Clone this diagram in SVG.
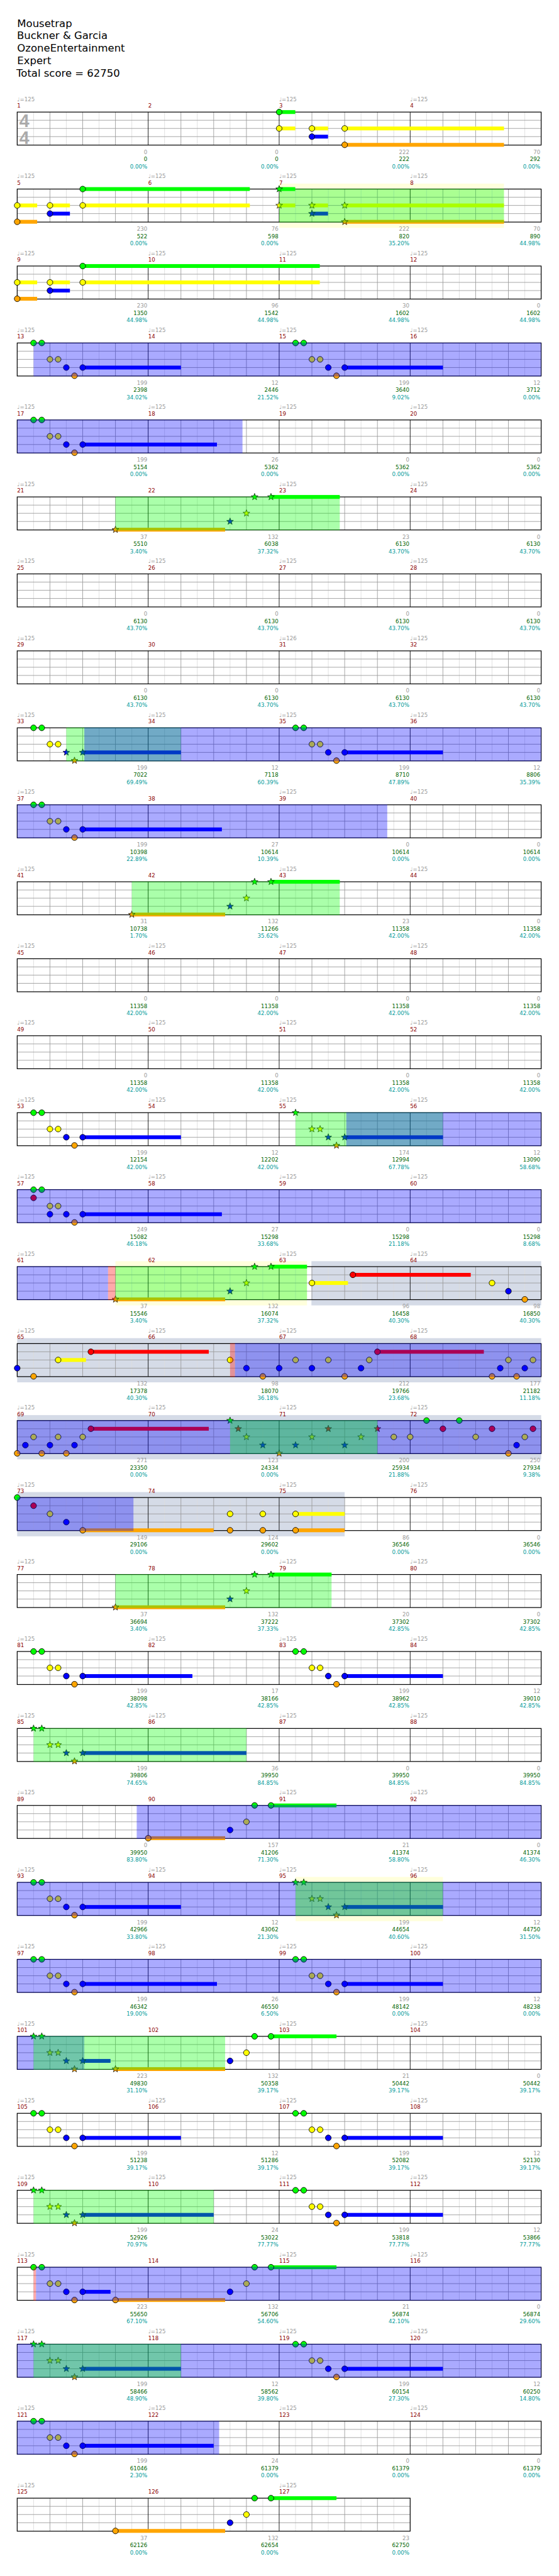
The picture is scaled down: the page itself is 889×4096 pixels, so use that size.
<svg xmlns="http://www.w3.org/2000/svg" xmlns:xlink="http://www.w3.org/1999/xlink" width="889" height="4096" viewBox="0 0 889 4096">
<style>
text{font-family:"DejaVu Sans",Verdana,sans-serif;font-size:10px}
.ti{font-size:19px;fill:#000}
.ts{font-family:"Liberation Sans",Arial,sans-serif;font-weight:bold;font-size:33px;fill:#aaa;text-anchor:middle}
.t{fill:#9a9a9a}
.m{fill:#8b0000}
.a{fill:#9a9a9a;text-anchor:end}
.b{fill:#006400;text-anchor:end}
.c{fill:#009a9a;text-anchor:end}
.lt{stroke:#dcdcdc;stroke-width:1;fill:none}
.gr{stroke:#999;stroke-width:1;fill:none}
.bk{stroke:#000;stroke-width:1;fill:none}
.bd{stroke:#000;stroke-width:1.4;fill:none}
.G{fill:#00ff00}.R{fill:#ff0000}.Y{fill:#ffff00}.B{fill:#0000ff}.O{fill:#ffa500}
.ob{fill:#0000ff;fill-opacity:.333}
.og{fill:#00ff00;fill-opacity:.333}
.or{fill:#ff0000;fill-opacity:.333}
.yb{fill:#ffffdc}
.sb{fill:#d5dbe7}
</style>
<defs>
<circle id="c" r="5.3" stroke="#000" stroke-width="1"/>
<path id="s" d="M0,-6.5L1.59,-2.18L6.18,-2.01L2.57,0.83L3.82,5.26L0,2.7L-3.82,5.26L-2.57,0.83L-6.18,-2.01L-1.59,-2.18Z" stroke="#000" stroke-width="0.8"/>
<g id="pAc">
<use href="#c" class="G" x="61.5" y="0"/><use href="#c" class="G" x="76.5" y="0"/><use href="#c" class="Y" x="91.5" y="30"/><use href="#c" class="Y" x="106.5" y="30"/><use href="#c" class="B" x="121.5" y="45"/><use href="#c" class="O" x="136.5" y="60"/><use href="#c" class="B" x="151.5" y="45"/>
</g>
<g id="pAs">
<use href="#s" class="G" x="61.5" y="0"/><use href="#s" class="G" x="76.5" y="0"/><use href="#s" class="Y" x="91.5" y="30"/><use href="#s" class="Y" x="106.5" y="30"/><use href="#s" class="B" x="121.5" y="45"/><use href="#s" class="O" x="136.5" y="60"/><use href="#s" class="B" x="151.5" y="45"/>
</g>
<g id="grid4">
<path class="lt" d="M61.5 0V60.5M121.5 0V60.5M181.5 0V60.5M241.5 0V60.5M301.5 0V60.5M361.5 0V60.5M421.5 0V60.5M481.5 0V60.5M541.5 0V60.5M601.5 0V60.5M661.5 0V60.5M721.5 0V60.5M781.5 0V60.5M841.5 0V60.5M901.5 0V60.5M961.5 0V60.5"/>
<path class="gr" d="M31.5 15H991.5M31.5 30H991.5M31.5 45H991.5M91.5 0V60.5M151.5 0V60.5M211.5 0V60.5M331.5 0V60.5M391.5 0V60.5M451.5 0V60.5M571.5 0V60.5M631.5 0V60.5M691.5 0V60.5M811.5 0V60.5M871.5 0V60.5M931.5 0V60.5"/>
<path class="bk" d="M271.5 0V60.5M511.5 0V60.5M751.5 0V60.5"/>
<rect class="bd" x="31.5" y="0" width="960" height="60.5"/>
</g>
<g id="grid3">
<path class="lt" d="M61.5 0V60.5M121.5 0V60.5M181.5 0V60.5M241.5 0V60.5M301.5 0V60.5M361.5 0V60.5M421.5 0V60.5M481.5 0V60.5M541.5 0V60.5M601.5 0V60.5M661.5 0V60.5M721.5 0V60.5"/>
<path class="gr" d="M31.5 15H751.5M31.5 30H751.5M31.5 45H751.5M91.5 0V60.5M151.5 0V60.5M211.5 0V60.5M331.5 0V60.5M391.5 0V60.5M451.5 0V60.5M571.5 0V60.5M631.5 0V60.5M691.5 0V60.5"/>
<path class="bk" d="M271.5 0V60.5M511.5 0V60.5"/>
<rect class="bd" x="31.5" y="0" width="720" height="60.5"/>
</g>
</defs>
<g transform="scale(0.868)">
<rect x="0" y="0" width="1024" height="4717" fill="#fff"/>
<g id="title">
<text class="ti" x="31.5" y="49">Mousetrap</text>
<text class="ti" x="31" y="72">Buckner &amp; Garcia</text>
<text class="ti" x="31.5" y="95">OzoneEntertainment</text>
<text class="ti" x="31.5" y="118">Expert</text>
<text class="ti" x="30" y="141">Total score = 62750</text>
</g>

<g id="row1" transform="translate(0,205.3)">
<use href="#grid4"/>
<text class="ts" x="44.5" y="27.5">4</text><text class="ts" x="44.5" y="58">4</text>
<rect class="G" x="511.5" y="-3.5" width="29.5" height="7"/><rect class="Y" x="511.5" y="26.5" width="29.5" height="7"/><rect class="Y" x="571.5" y="26.5" width="29.5" height="7"/><rect class="B" x="571.5" y="41.5" width="29.5" height="7"/><rect class="Y" x="631.5" y="26.5" width="291.9" height="7"/><rect class="O" x="631.5" y="56.5" width="291.9" height="7"/>
<use href="#c" class="G" x="511.5" y="0"/><use href="#c" class="Y" x="511.5" y="30"/><use href="#c" class="Y" x="571.5" y="30"/><use href="#c" class="B" x="571.5" y="45"/><use href="#c" class="Y" x="631.5" y="30"/><use href="#c" class="O" x="631.5" y="60"/>
<text class="t" x="31.5" y="-20">♩=125</text><text class="m" x="31.5" y="-8">1</text><text class="m" x="271.5" y="-8">2</text><text class="t" x="511.5" y="-20">♩=125</text><text class="m" x="511.5" y="-8">3</text><text class="t" x="751.5" y="-20">♩=125</text><text class="m" x="751.5" y="-8">4</text>
<text class="a" x="270" y="76.5">0</text><text class="b" x="270" y="90">0</text><text class="c" x="270" y="103">0.00%</text>
<text class="a" x="510" y="76.5">0</text><text class="b" x="510" y="90">0</text><text class="c" x="510" y="103">0.00%</text>
<text class="a" x="750" y="76.5">222</text><text class="b" x="750" y="90">222</text><text class="c" x="750" y="103">0.00%</text>
<text class="a" x="990" y="76.5">70</text><text class="b" x="990" y="90">292</text><text class="c" x="990" y="103">0.00%</text>
</g>

<g id="row2" transform="translate(0,346.3)">
<rect class="yb" x="511.5" y="-10" width="411.9" height="81"/>
<use href="#grid4"/>
<rect class="Y" x="31.5" y="26.5" width="36.6" height="7"/><rect class="O" x="31.5" y="56.5" width="36.6" height="7"/><rect class="Y" x="91.5" y="26.5" width="36.6" height="7"/><rect class="B" x="91.5" y="41.5" width="36.6" height="7"/><rect class="G" x="151.5" y="-3.5" width="306.2" height="7"/><rect class="Y" x="151.5" y="26.5" width="306.2" height="7"/>
<rect class="G" x="511.5" y="-3.5" width="29.5" height="7"/><rect class="Y" x="511.5" y="26.5" width="29.5" height="7"/><rect class="Y" x="571.5" y="26.5" width="29.5" height="7"/><rect class="B" x="571.5" y="41.5" width="29.5" height="7"/><rect class="Y" x="631.5" y="26.5" width="291.9" height="7"/><rect class="O" x="631.5" y="56.5" width="291.9" height="7"/>
<use href="#c" class="Y" x="31.5" y="30"/><use href="#c" class="O" x="31.5" y="60"/><use href="#c" class="Y" x="91.5" y="30"/><use href="#c" class="B" x="91.5" y="45"/><use href="#c" class="G" x="151.5" y="0"/><use href="#c" class="Y" x="151.5" y="30"/>
<use href="#s" class="G" x="511.5" y="0"/><use href="#s" class="Y" x="511.5" y="30"/><use href="#s" class="Y" x="571.5" y="30"/><use href="#s" class="B" x="571.5" y="45"/><use href="#s" class="Y" x="631.5" y="30"/><use href="#s" class="O" x="631.5" y="60"/>
<rect class="og" x="511.5" y="-0.7" width="411.9" height="61.9"/>
<text class="t" x="31.5" y="-20">♩=125</text><text class="m" x="31.5" y="-8">5</text><text class="t" x="271.5" y="-20">♩=125</text><text class="m" x="271.5" y="-8">6</text><text class="t" x="511.5" y="-20">♩=125</text><text class="m" x="511.5" y="-8">7</text><text class="t" x="751.5" y="-20">♩=125</text><text class="m" x="751.5" y="-8">8</text>
<text class="a" x="270" y="76.5">230</text><text class="b" x="270" y="90">522</text><text class="c" x="270" y="103">0.00%</text>
<text class="a" x="510" y="76.5">76</text><text class="b" x="510" y="90">598</text><text class="c" x="510" y="103">0.00%</text>
<text class="a" x="750" y="76.5">222</text><text class="b" x="750" y="90">820</text><text class="c" x="750" y="103">35.20%</text>
<text class="a" x="990" y="76.5">70</text><text class="b" x="990" y="90">890</text><text class="c" x="990" y="103">44.98%</text>
</g>

<g id="row3" transform="translate(0,487.3)">
<use href="#grid4"/>
<rect class="Y" x="31.5" y="26.5" width="36.6" height="7"/><rect class="O" x="31.5" y="56.5" width="36.6" height="7"/><rect class="Y" x="91.5" y="26.5" width="36.6" height="7"/><rect class="B" x="91.5" y="41.5" width="36.6" height="7"/><rect class="G" x="151.5" y="-3.5" width="434.4" height="7"/><rect class="Y" x="151.5" y="26.5" width="434.4" height="7"/>
<use href="#c" class="Y" x="31.5" y="30"/><use href="#c" class="O" x="31.5" y="60"/><use href="#c" class="Y" x="91.5" y="30"/><use href="#c" class="B" x="91.5" y="45"/><use href="#c" class="G" x="151.5" y="0"/><use href="#c" class="Y" x="151.5" y="30"/>
<text class="t" x="31.5" y="-20">♩=125</text><text class="m" x="31.5" y="-8">9</text><text class="t" x="271.5" y="-20">♩=125</text><text class="m" x="271.5" y="-8">10</text><text class="t" x="511.5" y="-20">♩=125</text><text class="m" x="511.5" y="-8">11</text><text class="t" x="751.5" y="-20">♩=125</text><text class="m" x="751.5" y="-8">12</text>
<text class="a" x="270" y="76.5">230</text><text class="b" x="270" y="90">1350</text><text class="c" x="270" y="103">44.98%</text>
<text class="a" x="510" y="76.5">96</text><text class="b" x="510" y="90">1542</text><text class="c" x="510" y="103">44.98%</text>
<text class="a" x="750" y="76.5">30</text><text class="b" x="750" y="90">1602</text><text class="c" x="750" y="103">44.98%</text>
<text class="a" x="990" y="76.5">0</text><text class="b" x="990" y="90">1602</text><text class="c" x="990" y="103">44.98%</text>
</g>

<g id="row4" transform="translate(0,628.3)">
<use href="#grid4"/>
<rect class="B" x="151.5" y="41.5" width="180" height="7"/><rect class="B" x="631.5" y="41.5" width="180" height="7"/>
<use href="#pAc"/><use href="#pAc" x="480"/>
<rect class="ob" x="61.5" y="-0.7" width="930" height="61.9"/>
<text class="t" x="31.5" y="-20">♩=125</text><text class="m" x="31.5" y="-8">13</text><text class="t" x="271.5" y="-20">♩=125</text><text class="m" x="271.5" y="-8">14</text><text class="t" x="511.5" y="-20">♩=125</text><text class="m" x="511.5" y="-8">15</text><text class="t" x="751.5" y="-20">♩=125</text><text class="m" x="751.5" y="-8">16</text>
<text class="a" x="270" y="76.5">199</text><text class="b" x="270" y="90">2398</text><text class="c" x="270" y="103">34.02%</text>
<text class="a" x="510" y="76.5">12</text><text class="b" x="510" y="90">2446</text><text class="c" x="510" y="103">21.52%</text>
<text class="a" x="750" y="76.5">199</text><text class="b" x="750" y="90">3640</text><text class="c" x="750" y="103">9.02%</text>
<text class="a" x="990" y="76.5">12</text><text class="b" x="990" y="90">3712</text><text class="c" x="990" y="103">0.00%</text>
</g>

<g id="row5" transform="translate(0,769.3)">
<use href="#grid4"/>
<rect class="B" x="151.5" y="41.5" width="246" height="7"/>
<use href="#pAc"/>
<rect class="ob" x="31.5" y="-0.7" width="412.8" height="61.9"/>
<text class="t" x="31.5" y="-20">♩=125</text><text class="m" x="31.5" y="-8">17</text><text class="t" x="271.5" y="-20">♩=125</text><text class="m" x="271.5" y="-8">18</text><text class="t" x="511.5" y="-20">♩=125</text><text class="m" x="511.5" y="-8">19</text><text class="t" x="751.5" y="-20">♩=125</text><text class="m" x="751.5" y="-8">20</text>
<text class="a" x="270" y="76.5">199</text><text class="b" x="270" y="90">5154</text><text class="c" x="270" y="103">0.00%</text>
<text class="a" x="510" y="76.5">26</text><text class="b" x="510" y="90">5362</text><text class="c" x="510" y="103">0.00%</text>
<text class="a" x="750" y="76.5">0</text><text class="b" x="750" y="90">5362</text><text class="c" x="750" y="103">0.00%</text>
<text class="a" x="990" y="76.5">0</text><text class="b" x="990" y="90">5362</text><text class="c" x="990" y="103">0.00%</text>
</g>

<g id="row6" transform="translate(0,910.3)">
<use href="#grid4"/>
<rect class="O" x="211.5" y="56.5" width="201" height="7"/><rect class="G" x="496.5" y="-3.5" width="126" height="7"/>
<use href="#s" class="O" x="211.5" y="60"/><use href="#s" class="B" x="421.5" y="45"/><use href="#s" class="Y" x="451.5" y="30"/><use href="#s" class="G" x="466.5" y="0"/><use href="#s" class="G" x="496.5" y="0"/>
<rect class="og" x="211.5" y="-0.7" width="411" height="61.9"/>
<text class="t" x="31.5" y="-20">♩=125</text><text class="m" x="31.5" y="-8">21</text><text class="m" x="271.5" y="-8">22</text><text class="t" x="511.5" y="-20">♩=125</text><text class="m" x="511.5" y="-8">23</text><text class="t" x="751.5" y="-20">♩=125</text><text class="m" x="751.5" y="-8">24</text>
<text class="a" x="270" y="76.5">37</text><text class="b" x="270" y="90">5510</text><text class="c" x="270" y="103">3.40%</text>
<text class="a" x="510" y="76.5">132</text><text class="b" x="510" y="90">6038</text><text class="c" x="510" y="103">37.32%</text>
<text class="a" x="750" y="76.5">23</text><text class="b" x="750" y="90">6130</text><text class="c" x="750" y="103">43.70%</text>
<text class="a" x="990" y="76.5">0</text><text class="b" x="990" y="90">6130</text><text class="c" x="990" y="103">43.70%</text>
</g>

<g id="row7" transform="translate(0,1051.3)">
<use href="#grid4"/>
<text class="t" x="31.5" y="-20">♩=125</text><text class="m" x="31.5" y="-8">25</text><text class="t" x="271.5" y="-20">♩=125</text><text class="m" x="271.5" y="-8">26</text><text class="t" x="511.5" y="-20">♩=125</text><text class="m" x="511.5" y="-8">27</text><text class="t" x="751.5" y="-20">♩=125</text><text class="m" x="751.5" y="-8">28</text>
<text class="a" x="270" y="76.5">0</text><text class="b" x="270" y="90">6130</text><text class="c" x="270" y="103">43.70%</text>
<text class="a" x="510" y="76.5">0</text><text class="b" x="510" y="90">6130</text><text class="c" x="510" y="103">43.70%</text>
<text class="a" x="750" y="76.5">0</text><text class="b" x="750" y="90">6130</text><text class="c" x="750" y="103">43.70%</text>
<text class="a" x="990" y="76.5">0</text><text class="b" x="990" y="90">6130</text><text class="c" x="990" y="103">43.70%</text>
</g>

<g id="row8" transform="translate(0,1192.3)">
<use href="#grid4"/>
<text class="t" x="31.5" y="-20">♩=125</text><text class="m" x="31.5" y="-8">29</text><text class="m" x="271.5" y="-8">30</text><text class="t" x="511.5" y="-20">♩=126</text><text class="m" x="511.5" y="-8">31</text><text class="t" x="751.5" y="-20">♩=125</text><text class="m" x="751.5" y="-8">32</text>
<text class="a" x="270" y="76.5">0</text><text class="b" x="270" y="90">6130</text><text class="c" x="270" y="103">43.70%</text>
<text class="a" x="510" y="76.5">0</text><text class="b" x="510" y="90">6130</text><text class="c" x="510" y="103">43.70%</text>
<text class="a" x="750" y="76.5">0</text><text class="b" x="750" y="90">6130</text><text class="c" x="750" y="103">43.70%</text>
<text class="a" x="990" y="76.5">0</text><text class="b" x="990" y="90">6130</text><text class="c" x="990" y="103">43.70%</text>
</g>

<g id="row9" transform="translate(0,1333.3)">
<use href="#grid4"/>
<rect class="B" x="151.5" y="41.5" width="180" height="7"/><rect class="B" x="631.5" y="41.5" width="180" height="7"/>
<use href="#c" class="G" x="61.5" y="0"/><use href="#c" class="G" x="76.5" y="0"/><use href="#c" class="Y" x="91.5" y="30"/><use href="#c" class="Y" x="106.5" y="30"/><use href="#s" class="B" x="121.5" y="45"/><use href="#s" class="O" x="136.5" y="60"/><use href="#s" class="B" x="151.5" y="45"/>
<use href="#pAc" x="480"/>
<rect class="og" x="121.5" y="-0.7" width="210" height="61.9"/><rect class="ob" x="154.5" y="-0.7" width="837" height="61.9"/>
<text class="t" x="31.5" y="-20">♩=125</text><text class="m" x="31.5" y="-8">33</text><text class="t" x="271.5" y="-20">♩=125</text><text class="m" x="271.5" y="-8">34</text><text class="t" x="511.5" y="-20">♩=125</text><text class="m" x="511.5" y="-8">35</text><text class="t" x="751.5" y="-20">♩=125</text><text class="m" x="751.5" y="-8">36</text>
<text class="a" x="270" y="76.5">199</text><text class="b" x="270" y="90">7022</text><text class="c" x="270" y="103">69.49%</text>
<text class="a" x="510" y="76.5">12</text><text class="b" x="510" y="90">7118</text><text class="c" x="510" y="103">60.39%</text>
<text class="a" x="750" y="76.5">199</text><text class="b" x="750" y="90">8710</text><text class="c" x="750" y="103">47.89%</text>
<text class="a" x="990" y="76.5">12</text><text class="b" x="990" y="90">8806</text><text class="c" x="990" y="103">35.39%</text>
</g>

<g id="row10" transform="translate(0,1474.3)">
<use href="#grid4"/>
<rect class="B" x="151.5" y="41.5" width="255" height="7"/>
<use href="#pAc"/>
<rect class="ob" x="31.5" y="-0.7" width="678" height="61.9"/>
<text class="t" x="31.5" y="-20">♩=125</text><text class="m" x="31.5" y="-8">37</text><text class="m" x="271.5" y="-8">38</text><text class="t" x="511.5" y="-20">♩=125</text><text class="m" x="511.5" y="-8">39</text><text class="t" x="751.5" y="-20">♩=125</text><text class="m" x="751.5" y="-8">40</text>
<text class="a" x="270" y="76.5">199</text><text class="b" x="270" y="90">10398</text><text class="c" x="270" y="103">22.89%</text>
<text class="a" x="510" y="76.5">27</text><text class="b" x="510" y="90">10614</text><text class="c" x="510" y="103">10.39%</text>
<text class="a" x="750" y="76.5">0</text><text class="b" x="750" y="90">10614</text><text class="c" x="750" y="103">0.00%</text>
<text class="a" x="990" y="76.5">0</text><text class="b" x="990" y="90">10614</text><text class="c" x="990" y="103">0.00%</text>
</g>

<g id="row11" transform="translate(0,1615.3)">
<use href="#grid4"/>
<rect class="O" x="241.5" y="56.5" width="171" height="7"/><rect class="G" x="496.5" y="-3.5" width="126" height="7"/>
<use href="#s" class="O" x="241.5" y="60"/><use href="#s" class="B" x="421.5" y="45"/><use href="#s" class="Y" x="451.5" y="30"/><use href="#s" class="G" x="466.5" y="0"/><use href="#s" class="G" x="496.5" y="0"/>
<rect class="og" x="241.5" y="-0.7" width="381" height="61.9"/>
<text class="t" x="31.5" y="-20">♩=125</text><text class="m" x="31.5" y="-8">41</text><text class="m" x="271.5" y="-8">42</text><text class="t" x="511.5" y="-20">♩=125</text><text class="m" x="511.5" y="-8">43</text><text class="t" x="751.5" y="-20">♩=125</text><text class="m" x="751.5" y="-8">44</text>
<text class="a" x="270" y="76.5">31</text><text class="b" x="270" y="90">10738</text><text class="c" x="270" y="103">1.70%</text>
<text class="a" x="510" y="76.5">132</text><text class="b" x="510" y="90">11266</text><text class="c" x="510" y="103">35.62%</text>
<text class="a" x="750" y="76.5">23</text><text class="b" x="750" y="90">11358</text><text class="c" x="750" y="103">42.00%</text>
<text class="a" x="990" y="76.5">0</text><text class="b" x="990" y="90">11358</text><text class="c" x="990" y="103">42.00%</text>
</g>

<g id="row12" transform="translate(0,1756.3)">
<use href="#grid4"/>
<text class="t" x="31.5" y="-20">♩=125</text><text class="m" x="31.5" y="-8">45</text><text class="t" x="271.5" y="-20">♩=125</text><text class="m" x="271.5" y="-8">46</text><text class="t" x="511.5" y="-20">♩=125</text><text class="m" x="511.5" y="-8">47</text><text class="t" x="751.5" y="-20">♩=125</text><text class="m" x="751.5" y="-8">48</text>
<text class="a" x="270" y="76.5">0</text><text class="b" x="270" y="90">11358</text><text class="c" x="270" y="103">42.00%</text>
<text class="a" x="510" y="76.5">0</text><text class="b" x="510" y="90">11358</text><text class="c" x="510" y="103">42.00%</text>
<text class="a" x="750" y="76.5">0</text><text class="b" x="750" y="90">11358</text><text class="c" x="750" y="103">42.00%</text>
<text class="a" x="990" y="76.5">0</text><text class="b" x="990" y="90">11358</text><text class="c" x="990" y="103">42.00%</text>
</g>

<g id="row13" transform="translate(0,1897.3)">
<use href="#grid4"/>
<text class="t" x="31.5" y="-20">♩=125</text><text class="m" x="31.5" y="-8">49</text><text class="t" x="271.5" y="-20">♩=125</text><text class="m" x="271.5" y="-8">50</text><text class="t" x="511.5" y="-20">♩=125</text><text class="m" x="511.5" y="-8">51</text><text class="t" x="751.5" y="-20">♩=125</text><text class="m" x="751.5" y="-8">52</text>
<text class="a" x="270" y="76.5">0</text><text class="b" x="270" y="90">11358</text><text class="c" x="270" y="103">42.00%</text>
<text class="a" x="510" y="76.5">0</text><text class="b" x="510" y="90">11358</text><text class="c" x="510" y="103">42.00%</text>
<text class="a" x="750" y="76.5">0</text><text class="b" x="750" y="90">11358</text><text class="c" x="750" y="103">42.00%</text>
<text class="a" x="990" y="76.5">0</text><text class="b" x="990" y="90">11358</text><text class="c" x="990" y="103">42.00%</text>
</g>

<g id="row14" transform="translate(0,2038.3)">
<use href="#grid4"/>
<rect class="B" x="151.5" y="41.5" width="180" height="7"/><rect class="B" x="631.5" y="41.5" width="180" height="7"/>
<use href="#pAc"/>
<use href="#s" class="G" x="541.5" y="0"/><use href="#s" class="Y" x="571.5" y="30"/><use href="#s" class="Y" x="586.5" y="30"/><use href="#s" class="B" x="601.5" y="45"/><use href="#s" class="O" x="616.5" y="60"/><use href="#s" class="B" x="631.5" y="45"/>
<rect class="og" x="541.5" y="-0.7" width="270" height="61.9"/><rect class="ob" x="634.5" y="-0.7" width="357" height="61.9"/>
<text class="t" x="31.5" y="-20">♩=125</text><text class="m" x="31.5" y="-8">53</text><text class="t" x="271.5" y="-20">♩=125</text><text class="m" x="271.5" y="-8">54</text><text class="t" x="511.5" y="-20">♩=125</text><text class="m" x="511.5" y="-8">55</text><text class="t" x="751.5" y="-20">♩=125</text><text class="m" x="751.5" y="-8">56</text>
<text class="a" x="270" y="76.5">199</text><text class="b" x="270" y="90">12154</text><text class="c" x="270" y="103">42.00%</text>
<text class="a" x="510" y="76.5">12</text><text class="b" x="510" y="90">12202</text><text class="c" x="510" y="103">42.00%</text>
<text class="a" x="750" y="76.5">174</text><text class="b" x="750" y="90">12994</text><text class="c" x="750" y="103">67.78%</text>
<text class="a" x="990" y="76.5">12</text><text class="b" x="990" y="90">13090</text><text class="c" x="990" y="103">58.68%</text>
</g>

<g id="row15" transform="translate(0,2179.3)">
<use href="#grid4"/>
<rect class="B" x="151.5" y="41.5" width="255" height="7"/>
<use href="#c" class="G" x="61.5" y="0"/><use href="#c" class="R" x="61.5" y="15"/><use href="#c" class="G" x="76.5" y="0"/><use href="#c" class="Y" x="91.5" y="30"/><use href="#c" class="B" x="91.5" y="45"/><use href="#c" class="Y" x="106.5" y="30"/><use href="#c" class="B" x="121.5" y="45"/><use href="#c" class="O" x="136.5" y="60"/><use href="#c" class="B" x="151.5" y="45"/>
<rect class="ob" x="31.5" y="-0.7" width="960" height="61.9"/>
<text class="t" x="31.5" y="-20">♩=125</text><text class="m" x="31.5" y="-8">57</text><text class="t" x="271.5" y="-20">♩=125</text><text class="m" x="271.5" y="-8">58</text><text class="t" x="511.5" y="-20">♩=125</text><text class="m" x="511.5" y="-8">59</text><text class="t" x="751.5" y="-20">♩=125</text><text class="m" x="751.5" y="-8">60</text>
<text class="a" x="270" y="76.5">249</text><text class="b" x="270" y="90">15082</text><text class="c" x="270" y="103">46.18%</text>
<text class="a" x="510" y="76.5">27</text><text class="b" x="510" y="90">15298</text><text class="c" x="510" y="103">33.68%</text>
<text class="a" x="750" y="76.5">0</text><text class="b" x="750" y="90">15298</text><text class="c" x="750" y="103">21.18%</text>
<text class="a" x="990" y="76.5">0</text><text class="b" x="990" y="90">15298</text><text class="c" x="990" y="103">8.68%</text>
</g>

<g id="row16" transform="translate(0,2320.3)">
<rect class="yb" x="211.5" y="-10" width="351" height="81"/><rect class="sb" x="570.6" y="-10" width="420.9" height="81"/>
<use href="#grid4"/>
<rect class="O" x="211.5" y="56.5" width="201" height="7"/><rect class="G" x="496.5" y="-3.5" width="66" height="7"/><rect class="Y" x="571.5" y="26.5" width="66" height="7"/><rect class="R" x="646.5" y="11.5" width="216" height="7"/>
<use href="#s" class="O" x="211.5" y="60"/><use href="#s" class="B" x="421.5" y="45"/><use href="#s" class="Y" x="451.5" y="30"/><use href="#s" class="G" x="466.5" y="0"/><use href="#s" class="G" x="496.5" y="0"/>
<use href="#c" class="Y" x="571.5" y="30"/><use href="#c" class="R" x="646.5" y="15"/><use href="#c" class="Y" x="901.5" y="30"/><use href="#c" class="B" x="931.5" y="45"/><use href="#c" class="O" x="961.5" y="60"/>
<rect class="ob" x="31.5" y="-0.7" width="166.5" height="61.9"/><rect class="or" x="198" y="-0.7" width="13.5" height="61.9"/><rect class="og" x="211.5" y="-0.7" width="351" height="61.9"/>
<text class="t" x="31.5" y="-20">♩=125</text><text class="m" x="31.5" y="-8">61</text><text class="m" x="271.5" y="-8">62</text><text class="t" x="511.5" y="-20">♩=125</text><text class="m" x="511.5" y="-8">63</text><text class="t" x="751.5" y="-20">♩=125</text><text class="m" x="751.5" y="-8">64</text>
<text class="a" x="270" y="76.5">37</text><text class="b" x="270" y="90">15546</text><text class="c" x="270" y="103">3.40%</text>
<text class="a" x="510" y="76.5">132</text><text class="b" x="510" y="90">16074</text><text class="c" x="510" y="103">37.32%</text>
<text class="a" x="750" y="76.5">96</text><text class="b" x="750" y="90">16458</text><text class="c" x="750" y="103">40.30%</text>
<text class="a" x="990" y="76.5">98</text><text class="b" x="990" y="90">16850</text><text class="c" x="990" y="103">40.30%</text>
</g>

<g id="row17" transform="translate(0,2461.3)">
<rect class="sb" x="31.5" y="-10" width="960" height="81"/>
<use href="#grid4"/>
<rect class="Y" x="106.5" y="26.5" width="51" height="7"/><rect class="R" x="166.5" y="11.5" width="216" height="7"/><rect class="R" x="691.5" y="11.5" width="195" height="7"/>
<use href="#c" class="B" x="31.5" y="45"/><use href="#c" class="O" x="61.5" y="60"/><use href="#c" class="Y" x="106.5" y="30"/><use href="#c" class="R" x="166.5" y="15"/><use href="#c" class="Y" x="421.5" y="30"/><use href="#c" class="B" x="451.5" y="45"/><use href="#c" class="O" x="481.5" y="60"/><use href="#c" class="B" x="511.5" y="45"/><use href="#c" class="Y" x="541.5" y="30"/><use href="#c" class="B" x="571.5" y="45"/><use href="#c" class="Y" x="601.5" y="30"/><use href="#c" class="O" x="631.5" y="60"/><use href="#c" class="B" x="661.5" y="45"/><use href="#c" class="Y" x="676.5" y="30"/><use href="#c" class="R" x="691.5" y="15"/><use href="#c" class="O" x="901.5" y="60"/><use href="#c" class="B" x="916.5" y="45"/><use href="#c" class="Y" x="931.5" y="30"/><use href="#c" class="O" x="946.5" y="60"/><use href="#c" class="B" x="961.5" y="45"/><use href="#c" class="Y" x="976.5" y="30"/>
<rect class="or" x="421.5" y="-0.7" width="9" height="61.9"/><rect class="ob" x="430.5" y="-0.7" width="561" height="61.9"/>
<text class="t" x="31.5" y="-20">♩=125</text><text class="m" x="31.5" y="-8">65</text><text class="t" x="271.5" y="-20">♩=125</text><text class="m" x="271.5" y="-8">66</text><text class="t" x="511.5" y="-20">♩=125</text><text class="m" x="511.5" y="-8">67</text><text class="t" x="751.5" y="-20">♩=125</text><text class="m" x="751.5" y="-8">68</text>
<text class="a" x="270" y="76.5">132</text><text class="b" x="270" y="90">17378</text><text class="c" x="270" y="103">40.30%</text>
<text class="a" x="510" y="76.5">98</text><text class="b" x="510" y="90">18070</text><text class="c" x="510" y="103">36.18%</text>
<text class="a" x="750" y="76.5">212</text><text class="b" x="750" y="90">19766</text><text class="c" x="750" y="103">23.68%</text>
<text class="a" x="990" y="76.5">177</text><text class="b" x="990" y="90">21182</text><text class="c" x="990" y="103">11.18%</text>
</g>

<g id="row18" transform="translate(0,2602.3)">
<rect class="sb" x="31.5" y="-10" width="960" height="81"/>
<use href="#grid4"/>
<rect class="R" x="166.5" y="11.5" width="216" height="7"/>
<use href="#c" class="O" x="31.5" y="60"/><use href="#c" class="B" x="46.5" y="45"/><use href="#c" class="Y" x="61.5" y="30"/><use href="#c" class="O" x="76.5" y="60"/><use href="#c" class="B" x="91.5" y="45"/><use href="#c" class="Y" x="106.5" y="30"/><use href="#c" class="O" x="121.5" y="60"/><use href="#c" class="B" x="136.5" y="45"/><use href="#c" class="Y" x="151.5" y="30"/><use href="#c" class="R" x="166.5" y="15"/>
<use href="#s" class="G" x="421.5" y="0"/><use href="#s" class="R" x="436.5" y="15"/><use href="#s" class="Y" x="451.5" y="30"/><use href="#s" class="B" x="481.5" y="45"/><use href="#s" class="O" x="511.5" y="60"/><use href="#s" class="B" x="541.5" y="45"/><use href="#s" class="Y" x="571.5" y="30"/><use href="#s" class="R" x="601.5" y="15"/><use href="#s" class="B" x="631.5" y="45"/><use href="#s" class="Y" x="661.5" y="30"/><use href="#s" class="R" x="691.5" y="15"/>
<use href="#c" class="Y" x="721.5" y="30"/><use href="#c" class="Y" x="751.5" y="30"/><use href="#c" class="G" x="781.5" y="0"/><use href="#c" class="R" x="811.5" y="15"/><use href="#c" class="G" x="841.5" y="0"/><use href="#c" class="Y" x="871.5" y="30"/><use href="#c" class="R" x="901.5" y="15"/><use href="#c" class="O" x="931.5" y="60"/><use href="#c" class="B" x="946.5" y="45"/><use href="#c" class="Y" x="961.5" y="30"/><use href="#c" class="R" x="976.5" y="15"/>
<rect class="ob" x="31.5" y="-0.7" width="960" height="61.9"/><rect class="og" x="421.5" y="-0.7" width="270" height="61.9"/>
<text class="t" x="31.5" y="-20">♩=125</text><text class="m" x="31.5" y="-8">69</text><text class="t" x="271.5" y="-20">♩=125</text><text class="m" x="271.5" y="-8">70</text><text class="t" x="511.5" y="-20">♩=125</text><text class="m" x="511.5" y="-8">71</text><text class="t" x="751.5" y="-20">♩=125</text><text class="m" x="751.5" y="-8">72</text>
<text class="a" x="270" y="76.5">271</text><text class="b" x="270" y="90">23350</text><text class="c" x="270" y="103">0.00%</text>
<text class="a" x="510" y="76.5">123</text><text class="b" x="510" y="90">24334</text><text class="c" x="510" y="103">0.00%</text>
<text class="a" x="750" y="76.5">200</text><text class="b" x="750" y="90">25934</text><text class="c" x="750" y="103">21.88%</text>
<text class="a" x="990" y="76.5">250</text><text class="b" x="990" y="90">27934</text><text class="c" x="990" y="103">9.38%</text>
</g>

<g id="row19" transform="translate(0,2743.3)">
<rect class="sb" x="31.5" y="-10" width="600" height="81"/>
<use href="#grid4"/>
<rect class="O" x="151.5" y="56.5" width="240" height="7"/><rect class="Y" x="541.5" y="26.5" width="90" height="7"/><rect class="O" x="541.5" y="56.5" width="90" height="7"/>
<use href="#c" class="G" x="31.5" y="0"/><use href="#c" class="R" x="61.5" y="15"/><use href="#c" class="Y" x="91.5" y="30"/><use href="#c" class="B" x="121.5" y="45"/><use href="#c" class="O" x="151.5" y="60"/><use href="#c" class="Y" x="421.5" y="30"/><use href="#c" class="O" x="421.5" y="60"/><use href="#c" class="Y" x="481.5" y="30"/><use href="#c" class="O" x="481.5" y="60"/><use href="#c" class="Y" x="541.5" y="30"/><use href="#c" class="O" x="541.5" y="60"/>
<rect class="ob" x="31.5" y="-0.7" width="213" height="61.9"/>
<text class="t" x="31.5" y="-20">♩=125</text><text class="m" x="31.5" y="-8">73</text><text class="m" x="271.5" y="-8">74</text><text class="t" x="511.5" y="-20">♩=125</text><text class="m" x="511.5" y="-8">75</text><text class="t" x="751.5" y="-20">♩=125</text><text class="m" x="751.5" y="-8">76</text>
<text class="a" x="270" y="76.5">149</text><text class="b" x="270" y="90">29106</text><text class="c" x="270" y="103">0.00%</text>
<text class="a" x="510" y="76.5">124</text><text class="b" x="510" y="90">29602</text><text class="c" x="510" y="103">0.00%</text>
<text class="a" x="750" y="76.5">86</text><text class="b" x="750" y="90">36546</text><text class="c" x="750" y="103">0.00%</text>
<text class="a" x="990" y="76.5">0</text><text class="b" x="990" y="90">36546</text><text class="c" x="990" y="103">0.00%</text>
</g>

<g id="row20" transform="translate(0,2884.3)">
<use href="#grid4"/>
<rect class="O" x="211.5" y="56.5" width="201" height="7"/><rect class="G" x="496.5" y="-3.5" width="111" height="7"/>
<use href="#s" class="O" x="211.5" y="60"/><use href="#s" class="B" x="421.5" y="45"/><use href="#s" class="Y" x="451.5" y="30"/><use href="#s" class="G" x="466.5" y="0"/><use href="#s" class="G" x="496.5" y="0"/>
<rect class="og" x="211.5" y="-0.7" width="396" height="61.9"/>
<text class="t" x="31.5" y="-20">♩=125</text><text class="m" x="31.5" y="-8">77</text><text class="m" x="271.5" y="-8">78</text><text class="t" x="511.5" y="-20">♩=125</text><text class="m" x="511.5" y="-8">79</text><text class="t" x="751.5" y="-20">♩=125</text><text class="m" x="751.5" y="-8">80</text>
<text class="a" x="270" y="76.5">37</text><text class="b" x="270" y="90">36694</text><text class="c" x="270" y="103">3.40%</text>
<text class="a" x="510" y="76.5">132</text><text class="b" x="510" y="90">37222</text><text class="c" x="510" y="103">37.33%</text>
<text class="a" x="750" y="76.5">20</text><text class="b" x="750" y="90">37302</text><text class="c" x="750" y="103">42.85%</text>
<text class="a" x="990" y="76.5">0</text><text class="b" x="990" y="90">37302</text><text class="c" x="990" y="103">42.85%</text>
</g>

<g id="row21" transform="translate(0,3025.3)">
<use href="#grid4"/>
<rect class="B" x="151.5" y="41.5" width="201" height="7"/><rect class="B" x="631.5" y="41.5" width="180" height="7"/>
<use href="#pAc"/><use href="#pAc" x="480"/>
<text class="t" x="31.5" y="-20">♩=125</text><text class="m" x="31.5" y="-8">81</text><text class="t" x="271.5" y="-20">♩=125</text><text class="m" x="271.5" y="-8">82</text><text class="t" x="511.5" y="-20">♩=125</text><text class="m" x="511.5" y="-8">83</text><text class="t" x="751.5" y="-20">♩=125</text><text class="m" x="751.5" y="-8">84</text>
<text class="a" x="270" y="76.5">199</text><text class="b" x="270" y="90">38098</text><text class="c" x="270" y="103">42.85%</text>
<text class="a" x="510" y="76.5">17</text><text class="b" x="510" y="90">38166</text><text class="c" x="510" y="103">42.85%</text>
<text class="a" x="750" y="76.5">199</text><text class="b" x="750" y="90">38962</text><text class="c" x="750" y="103">42.85%</text>
<text class="a" x="990" y="76.5">12</text><text class="b" x="990" y="90">39010</text><text class="c" x="990" y="103">42.85%</text>
</g>

<g id="row22" transform="translate(0,3166.3)">
<use href="#grid4"/>
<rect class="B" x="151.5" y="41.5" width="300" height="7"/>
<use href="#pAs"/>
<rect class="og" x="61.5" y="-0.7" width="390" height="61.9"/>
<text class="t" x="31.5" y="-20">♩=125</text><text class="m" x="31.5" y="-8">85</text><text class="t" x="271.5" y="-20">♩=125</text><text class="m" x="271.5" y="-8">86</text><text class="t" x="511.5" y="-20">♩=125</text><text class="m" x="511.5" y="-8">87</text><text class="t" x="751.5" y="-20">♩=125</text><text class="m" x="751.5" y="-8">88</text>
<text class="a" x="270" y="76.5">199</text><text class="b" x="270" y="90">39806</text><text class="c" x="270" y="103">74.65%</text>
<text class="a" x="510" y="76.5">36</text><text class="b" x="510" y="90">39950</text><text class="c" x="510" y="103">84.85%</text>
<text class="a" x="750" y="76.5">0</text><text class="b" x="750" y="90">39950</text><text class="c" x="750" y="103">84.85%</text>
<text class="a" x="990" y="76.5">0</text><text class="b" x="990" y="90">39950</text><text class="c" x="990" y="103">84.85%</text>
</g>

<g id="row23" transform="translate(0,3307.3)">
<use href="#grid4"/>
<rect class="O" x="271.5" y="56.5" width="141" height="7"/><rect class="G" x="496.5" y="-3.5" width="120" height="7"/>
<use href="#c" class="O" x="271.5" y="60"/><use href="#c" class="B" x="421.5" y="45"/><use href="#c" class="Y" x="451.5" y="30"/><use href="#c" class="G" x="466.5" y="0"/><use href="#c" class="G" x="496.5" y="0"/>
<rect class="ob" x="250.5" y="-0.7" width="741" height="61.9"/>
<text class="t" x="31.5" y="-20">♩=125</text><text class="m" x="31.5" y="-8">89</text><text class="m" x="271.5" y="-8">90</text><text class="t" x="511.5" y="-20">♩=125</text><text class="m" x="511.5" y="-8">91</text><text class="t" x="751.5" y="-20">♩=125</text><text class="m" x="751.5" y="-8">92</text>
<text class="a" x="270" y="76.5">0</text><text class="b" x="270" y="90">39950</text><text class="c" x="270" y="103">83.80%</text>
<text class="a" x="510" y="76.5">157</text><text class="b" x="510" y="90">41206</text><text class="c" x="510" y="103">71.30%</text>
<text class="a" x="750" y="76.5">21</text><text class="b" x="750" y="90">41374</text><text class="c" x="750" y="103">58.80%</text>
<text class="a" x="990" y="76.5">0</text><text class="b" x="990" y="90">41374</text><text class="c" x="990" y="103">46.30%</text>
</g>

<g id="row24" transform="translate(0,3448.3)">
<rect class="yb" x="541.5" y="-10" width="270" height="81"/>
<use href="#grid4"/>
<rect class="B" x="151.5" y="41.5" width="180" height="7"/><rect class="B" x="631.5" y="41.5" width="180" height="7"/>
<use href="#pAc"/><use href="#pAs" x="480"/>
<rect class="ob" x="31.5" y="-0.7" width="960" height="61.9"/><rect class="og" x="541.5" y="-0.7" width="270" height="61.9"/>
<text class="t" x="31.5" y="-20">♩=125</text><text class="m" x="31.5" y="-8">93</text><text class="t" x="271.5" y="-20">♩=125</text><text class="m" x="271.5" y="-8">94</text><text class="t" x="511.5" y="-20">♩=125</text><text class="m" x="511.5" y="-8">95</text><text class="t" x="751.5" y="-20">♩=125</text><text class="m" x="751.5" y="-8">96</text>
<text class="a" x="270" y="76.5">199</text><text class="b" x="270" y="90">42966</text><text class="c" x="270" y="103">33.80%</text>
<text class="a" x="510" y="76.5">12</text><text class="b" x="510" y="90">43062</text><text class="c" x="510" y="103">21.30%</text>
<text class="a" x="750" y="76.5">199</text><text class="b" x="750" y="90">44654</text><text class="c" x="750" y="103">40.60%</text>
<text class="a" x="990" y="76.5">12</text><text class="b" x="990" y="90">44750</text><text class="c" x="990" y="103">31.50%</text>
</g>

<g id="row25" transform="translate(0,3589.3)">
<use href="#grid4"/>
<rect class="B" x="151.5" y="41.5" width="246" height="7"/><rect class="B" x="631.5" y="41.5" width="180" height="7"/>
<use href="#pAc"/><use href="#pAc" x="480"/>
<rect class="ob" x="31.5" y="-0.7" width="960" height="61.9"/>
<text class="t" x="31.5" y="-20">♩=125</text><text class="m" x="31.5" y="-8">97</text><text class="t" x="271.5" y="-20">♩=125</text><text class="m" x="271.5" y="-8">98</text><text class="t" x="511.5" y="-20">♩=125</text><text class="m" x="511.5" y="-8">99</text><text class="t" x="751.5" y="-20">♩=125</text><text class="m" x="751.5" y="-8">100</text>
<text class="a" x="270" y="76.5">199</text><text class="b" x="270" y="90">46342</text><text class="c" x="270" y="103">19.00%</text>
<text class="a" x="510" y="76.5">26</text><text class="b" x="510" y="90">46550</text><text class="c" x="510" y="103">6.50%</text>
<text class="a" x="750" y="76.5">199</text><text class="b" x="750" y="90">48142</text><text class="c" x="750" y="103">0.00%</text>
<text class="a" x="990" y="76.5">12</text><text class="b" x="990" y="90">48238</text><text class="c" x="990" y="103">0.00%</text>
</g>

<g id="row26" transform="translate(0,3730.3)">
<use href="#grid4"/>
<rect class="B" x="151.5" y="41.5" width="51" height="7"/><rect class="O" x="211.5" y="56.5" width="201" height="7"/><rect class="G" x="496.5" y="-3.5" width="120" height="7"/>
<use href="#pAs"/><use href="#s" class="O" x="211.5" y="60"/>
<use href="#c" class="B" x="421.5" y="45"/><use href="#c" class="Y" x="451.5" y="30"/><use href="#c" class="G" x="466.5" y="0"/><use href="#c" class="G" x="496.5" y="0"/>
<rect class="ob" x="31.5" y="-0.7" width="123" height="61.9"/><rect class="og" x="61.5" y="-0.7" width="351" height="61.9"/>
<text class="t" x="31.5" y="-20">♩=125</text><text class="m" x="31.5" y="-8">101</text><text class="m" x="271.5" y="-8">102</text><text class="t" x="511.5" y="-20">♩=125</text><text class="m" x="511.5" y="-8">103</text><text class="t" x="751.5" y="-20">♩=125</text><text class="m" x="751.5" y="-8">104</text>
<text class="a" x="270" y="76.5">223</text><text class="b" x="270" y="90">49830</text><text class="c" x="270" y="103">31.10%</text>
<text class="a" x="510" y="76.5">132</text><text class="b" x="510" y="90">50358</text><text class="c" x="510" y="103">39.17%</text>
<text class="a" x="750" y="76.5">21</text><text class="b" x="750" y="90">50442</text><text class="c" x="750" y="103">39.17%</text>
<text class="a" x="990" y="76.5">0</text><text class="b" x="990" y="90">50442</text><text class="c" x="990" y="103">39.17%</text>
</g>

<g id="row27" transform="translate(0,3871.3)">
<use href="#grid4"/>
<rect class="B" x="151.5" y="41.5" width="180" height="7"/><rect class="B" x="631.5" y="41.5" width="180" height="7"/>
<use href="#pAc"/><use href="#pAc" x="480"/>
<text class="t" x="31.5" y="-20">♩=125</text><text class="m" x="31.5" y="-8">105</text><text class="t" x="271.5" y="-20">♩=125</text><text class="m" x="271.5" y="-8">106</text><text class="t" x="511.5" y="-20">♩=125</text><text class="m" x="511.5" y="-8">107</text><text class="t" x="751.5" y="-20">♩=125</text><text class="m" x="751.5" y="-8">108</text>
<text class="a" x="270" y="76.5">199</text><text class="b" x="270" y="90">51238</text><text class="c" x="270" y="103">39.17%</text>
<text class="a" x="510" y="76.5">12</text><text class="b" x="510" y="90">51286</text><text class="c" x="510" y="103">39.17%</text>
<text class="a" x="750" y="76.5">199</text><text class="b" x="750" y="90">52082</text><text class="c" x="750" y="103">39.17%</text>
<text class="a" x="990" y="76.5">12</text><text class="b" x="990" y="90">52130</text><text class="c" x="990" y="103">39.17%</text>
</g>

<g id="row28" transform="translate(0,4012.3)">
<use href="#grid4"/>
<rect class="B" x="151.5" y="41.5" width="240" height="7"/><rect class="B" x="631.5" y="41.5" width="180" height="7"/>
<use href="#pAs"/><use href="#pAc" x="480"/>
<rect class="og" x="61.5" y="-0.7" width="330" height="61.9"/>
<text class="t" x="31.5" y="-20">♩=125</text><text class="m" x="31.5" y="-8">109</text><text class="t" x="271.5" y="-20">♩=125</text><text class="m" x="271.5" y="-8">110</text><text class="t" x="511.5" y="-20">♩=125</text><text class="m" x="511.5" y="-8">111</text><text class="t" x="751.5" y="-20">♩=125</text><text class="m" x="751.5" y="-8">112</text>
<text class="a" x="270" y="76.5">199</text><text class="b" x="270" y="90">52926</text><text class="c" x="270" y="103">70.97%</text>
<text class="a" x="510" y="76.5">24</text><text class="b" x="510" y="90">53022</text><text class="c" x="510" y="103">77.77%</text>
<text class="a" x="750" y="76.5">199</text><text class="b" x="750" y="90">53818</text><text class="c" x="750" y="103">77.77%</text>
<text class="a" x="990" y="76.5">12</text><text class="b" x="990" y="90">53866</text><text class="c" x="990" y="103">77.77%</text>
</g>

<g id="row29" transform="translate(0,4153.3)">
<use href="#grid4"/>
<rect class="B" x="151.5" y="41.5" width="51" height="7"/><rect class="O" x="211.5" y="56.5" width="201" height="7"/><rect class="G" x="496.5" y="-3.5" width="120" height="7"/>
<use href="#pAc"/>
<use href="#c" class="O" x="211.5" y="60"/><use href="#c" class="B" x="421.5" y="45"/><use href="#c" class="Y" x="451.5" y="30"/><use href="#c" class="G" x="466.5" y="0"/><use href="#c" class="G" x="496.5" y="0"/>
<rect class="or" x="61.5" y="-0.7" width="4.5" height="61.9"/><rect class="ob" x="66" y="-0.7" width="925.5" height="61.9"/>
<text class="t" x="31.5" y="-20">♩=125</text><text class="m" x="31.5" y="-8">113</text><text class="m" x="271.5" y="-8">114</text><text class="t" x="511.5" y="-20">♩=125</text><text class="m" x="511.5" y="-8">115</text><text class="t" x="751.5" y="-20">♩=125</text><text class="m" x="751.5" y="-8">116</text>
<text class="a" x="270" y="76.5">223</text><text class="b" x="270" y="90">55650</text><text class="c" x="270" y="103">67.10%</text>
<text class="a" x="510" y="76.5">132</text><text class="b" x="510" y="90">56706</text><text class="c" x="510" y="103">54.60%</text>
<text class="a" x="750" y="76.5">21</text><text class="b" x="750" y="90">56874</text><text class="c" x="750" y="103">42.10%</text>
<text class="a" x="990" y="76.5">0</text><text class="b" x="990" y="90">56874</text><text class="c" x="990" y="103">29.60%</text>
</g>

<g id="row30" transform="translate(0,4294.3)">
<use href="#grid4"/>
<rect class="B" x="151.5" y="41.5" width="180" height="7"/><rect class="B" x="631.5" y="41.5" width="180" height="7"/>
<use href="#pAs"/><use href="#pAc" x="480"/>
<rect class="ob" x="31.5" y="-0.7" width="960" height="61.9"/><rect class="og" x="61.5" y="-0.7" width="270" height="61.9"/>
<text class="t" x="31.5" y="-20">♩=125</text><text class="m" x="31.5" y="-8">117</text><text class="t" x="271.5" y="-20">♩=125</text><text class="m" x="271.5" y="-8">118</text><text class="t" x="511.5" y="-20">♩=125</text><text class="m" x="511.5" y="-8">119</text><text class="t" x="751.5" y="-20">♩=125</text><text class="m" x="751.5" y="-8">120</text>
<text class="a" x="270" y="76.5">199</text><text class="b" x="270" y="90">58466</text><text class="c" x="270" y="103">48.90%</text>
<text class="a" x="510" y="76.5">12</text><text class="b" x="510" y="90">58562</text><text class="c" x="510" y="103">39.80%</text>
<text class="a" x="750" y="76.5">199</text><text class="b" x="750" y="90">60154</text><text class="c" x="750" y="103">27.30%</text>
<text class="a" x="990" y="76.5">12</text><text class="b" x="990" y="90">60250</text><text class="c" x="990" y="103">14.80%</text>
</g>

<g id="row31" transform="translate(0,4435.3)">
<use href="#grid4"/>
<rect class="B" x="151.5" y="41.5" width="240" height="7"/>
<use href="#pAc"/>
<rect class="ob" x="31.5" y="-0.7" width="370" height="61.9"/>
<text class="t" x="31.5" y="-20">♩=125</text><text class="m" x="31.5" y="-8">121</text><text class="t" x="271.5" y="-20">♩=125</text><text class="m" x="271.5" y="-8">122</text><text class="t" x="511.5" y="-20">♩=125</text><text class="m" x="511.5" y="-8">123</text><text class="t" x="751.5" y="-20">♩=125</text><text class="m" x="751.5" y="-8">124</text>
<text class="a" x="270" y="76.5">199</text><text class="b" x="270" y="90">61046</text><text class="c" x="270" y="103">2.30%</text>
<text class="a" x="510" y="76.5">24</text><text class="b" x="510" y="90">61379</text><text class="c" x="510" y="103">0.00%</text>
<text class="a" x="750" y="76.5">0</text><text class="b" x="750" y="90">61379</text><text class="c" x="750" y="103">0.00%</text>
<text class="a" x="990" y="76.5">0</text><text class="b" x="990" y="90">61379</text><text class="c" x="990" y="103">0.00%</text>
</g>

<g id="row32" transform="translate(0,4576.3)">
<use href="#grid3"/>
<rect class="O" x="211.5" y="56.5" width="201" height="7"/><rect class="G" x="496.5" y="-3.5" width="120" height="7"/>
<use href="#c" class="O" x="211.5" y="60"/><use href="#c" class="B" x="421.5" y="45"/><use href="#c" class="Y" x="451.5" y="30"/><use href="#c" class="G" x="466.5" y="0"/><use href="#c" class="G" x="496.5" y="0"/>
<text class="t" x="31.5" y="-20">♩=125</text><text class="m" x="31.5" y="-8">125</text><text class="m" x="271.5" y="-8">126</text><text class="t" x="511.5" y="-20">♩=125</text><text class="m" x="511.5" y="-8">127</text>
<text class="a" x="270" y="76.5">37</text><text class="b" x="270" y="90">62126</text><text class="c" x="270" y="103">0.00%</text>
<text class="a" x="510" y="76.5">132</text><text class="b" x="510" y="90">62654</text><text class="c" x="510" y="103">0.00%</text>
<text class="a" x="750" y="76.5">23</text><text class="b" x="750" y="90">62750</text><text class="c" x="750" y="103">0.00%</text>
</g>
</g>
</svg>
